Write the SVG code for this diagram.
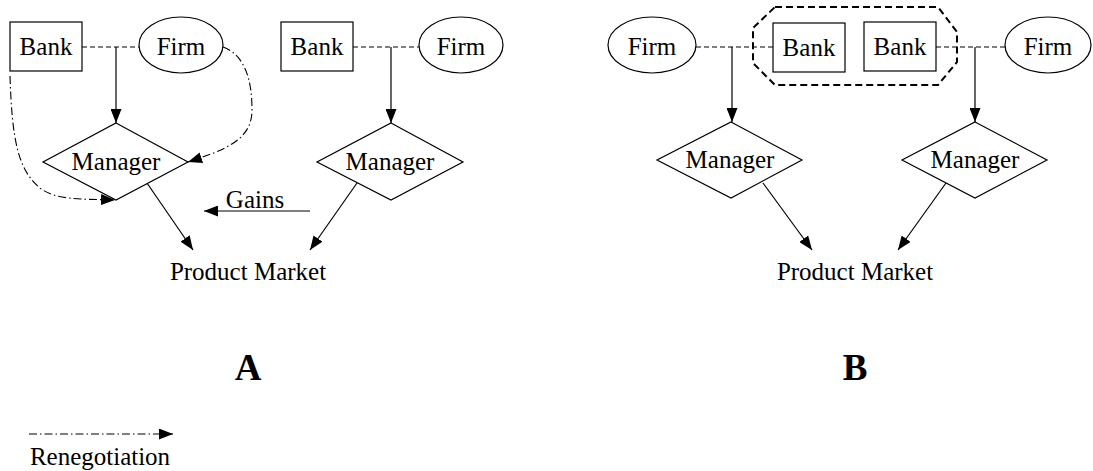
<svg xmlns="http://www.w3.org/2000/svg" width="1093" height="471" viewBox="0 0 1093 471">
<style>
.box{fill:#fff;stroke:#000;stroke-width:1.2}
.t{font-family:"Liberation Serif","DejaVu Serif",serif;font-size:25px;fill:#000;text-anchor:middle}
.big{font-family:"Liberation Serif","DejaVu Serif",serif;font-size:37px;font-weight:bold;fill:#000;text-anchor:middle}
.solid{fill:none;stroke:#000;stroke-width:1.2}
.dash{fill:none;stroke:#000;stroke-width:1.1;stroke-dasharray:5 3}
.dd{fill:none;stroke:#000;stroke-width:1.1;stroke-dasharray:8 3 1.5 3}
.group{fill:none;stroke:#000;stroke-width:2;stroke-dasharray:7 4}
</style>
<defs>
<marker id="ah" viewBox="0 0 14 11" refX="14" refY="5.5" markerWidth="14" markerHeight="11" markerUnits="userSpaceOnUse" orient="auto">
<path d="M0,0 L14,5.5 L0,11 Z" fill="#000"/>
</marker>
</defs>

<g id="connectors">
<path class="dash" d="M82,47 H139"/>
<path class="solid" d="M116,47 V123" marker-end="url(#ah)"/>
<path class="dd" d="M10,76 C12,140 18,170 40,188 C55,200 80,199 115,200" marker-end="url(#ah)"/>
<path class="dd" d="M223,47 C245,55 252,80 252,110 C252,140 225,150 188,162" marker-end="url(#ah)"/>
<path class="solid" d="M147,183 L193,250" marker-end="url(#ah)"/>
<path class="dash" d="M353,47 H419"/>
<path class="solid" d="M391,47 V123" marker-end="url(#ah)"/>
<path class="solid" d="M357,183 L310,250" marker-end="url(#ah)"/>
<path class="solid" d="M310,211 H204" marker-end="url(#ah)"/>
<path class="dash" d="M696,47 H773"/>
<path class="solid" d="M732,47 V122" marker-end="url(#ah)"/>
<path class="dash" d="M936,47 H1005"/>
<path class="solid" d="M975,47 V122" marker-end="url(#ah)"/>
<path class="solid" d="M763,183 L812,250" marker-end="url(#ah)"/>
<path class="solid" d="M946,183 L898,250" marker-end="url(#ah)"/>
<path class="dd" d="M29,434 H173" marker-end="url(#ah)"/>
</g>

<g id="groupB">
<path class="group" d="M775,7 H938 L957,32 V62 L938,85 H775 L753,63 V28 Z"/>
</g>

<g id="bankA1"><rect class="box" x="10" y="22" width="72" height="49"/><text class="t" x="46" y="55">Bank</text></g>
<g id="firmA1"><ellipse class="box" cx="181" cy="45" rx="42" ry="28"/><text class="t" x="181" y="55">Firm</text></g>
<g id="managerA1"><path class="box" d="M116,123 L188,162 L116,200 L43,162 Z"/><text class="t" x="116" y="170">Manager</text></g>

<g id="bankA2"><rect class="box" x="281" y="22" width="72" height="49"/><text class="t" x="317" y="55">Bank</text></g>
<g id="firmA2"><ellipse class="box" cx="461" cy="45" rx="42" ry="28"/><text class="t" x="461" y="55">Firm</text></g>
<g id="managerA2"><path class="box" d="M391,123 L463,162 L391,200 L317,162 Z"/><text class="t" x="390" y="170">Manager</text></g>

<g id="gains"><text class="t" x="255" y="208">Gains</text></g>
<g id="marketA"><text class="t" x="248" y="280">Product Market</text></g>

<g id="firmB1"><ellipse class="box" cx="652" cy="45" rx="44" ry="28"/><text class="t" x="652" y="55">Firm</text></g>
<g id="bankB1"><rect class="box" x="773" y="23" width="72" height="49"/><text class="t" x="809" y="56">Bank</text></g>
<g id="bankB2"><rect class="box" x="864" y="22" width="72" height="49"/><text class="t" x="900" y="55">Bank</text></g>
<g id="firmB2"><ellipse class="box" cx="1048" cy="45" rx="43" ry="28"/><text class="t" x="1048" y="55">Firm</text></g>
<g id="managerB1"><path class="box" d="M731,122 L802,160 L731,198 L657,160 Z"/><text class="t" x="730" y="168">Manager</text></g>
<g id="managerB2"><path class="box" d="M975,122 L1047,160 L975,198 L902,160 Z"/><text class="t" x="975" y="168">Manager</text></g>
<g id="marketB"><text class="t" x="855" y="280">Product Market</text></g>

<g id="labelA"><text class="big" x="248" y="380">A</text></g>
<g id="labelB"><text class="big" x="855" y="380">B</text></g>
<g id="legend"><text class="t" x="100" y="465">Renegotiation</text></g>
</svg>
